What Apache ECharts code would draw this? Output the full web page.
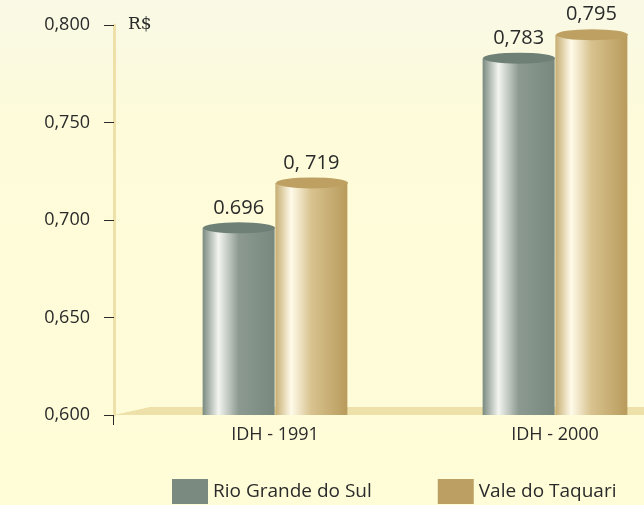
<!DOCTYPE html>
<html lang="pt">
<head>
<meta charset="UTF-8">
<title>IDH</title>
<script src="https://cdn.jsdelivr.net/npm/echarts@6/dist/echarts.min.js"></script>
<style>
  html, body { margin: 0; padding: 0; }
</style>
</head>
<body>
<div id="main" style="width:644px;height:505px;"></div>
<script>
var categories = ['IDH - 1991', 'IDH - 2000'];
var seriesNames = ['Rio Grande do Sul', 'Vale do Taquari'];
var rioValues = [0.696, 0.783];
var valeValues = [0.719, 0.795];
var rioLabels = ['0.696', '0,783'];
var valeLabels = ['0, 719', '0,795'];

var font = 'Open Sans';

function cyl(dark, light, mid, end) {
    return {
        type: 'linear', x: 0, y: 0, x2: 1, y2: 0,
        colorStops: [
            { offset: 0, color: dark },
            { offset: 0.22, color: light },
            { offset: 0.5, color: mid },
            { offset: 1, color: end }
        ]
    };
}
var rioFill = cyl('#7a8a80', '#f4f5f0', '#8c9a91', '#78887e');
var valeFill = cyl('#c6ad72', '#fffbea', '#d8c28e', '#b89b5c');

var myChart = echarts.init(document.getElementById('main'));
var option = {
    backgroundColor: {
        type: 'linear', x: 0, y: 0, x2: 0, y2: 1,
        colorStops: [
            { offset: 0, color: '#f9f9e6' },
            { offset: 0.25, color: '#fdfbd9' },
            { offset: 1, color: '#fffdd8' }
        ]
    },
    textStyle: { fontFamily: font },
    animation: false,
    grid: { left: 135, top: 25, width: 560, height: 390, outerBoundsMode: 'none', containLabel: false },
    legend: {
        left: 167,
        top: 474,
        itemWidth: 36,
        itemHeight: 25,
        itemGap: 66,
        icon: 'rect',
        textStyle: { fontSize: 19, color: '#2a2a2a', fontFamily: font },
        data: [
            { name: seriesNames[0], itemStyle: { color: '#7b8a80' } },
            { name: seriesNames[1], itemStyle: { color: '#bc9f62' } }
        ]
    },
    xAxis: {
        type: 'category',
        data: categories,
        axisLine: { show: false },
        axisTick: { show: false },
        axisLabel: { fontSize: 18, color: '#2a2a2a', margin: 11 }
    },
    yAxis: {
        type: 'value',
        min: 0.6,
        max: 0.8,
        interval: 0.05,
        offset: 21,
        name: 'R$',
        nameLocation: 'end',
        nameGap: 0,
        nameTextStyle: {
            fontFamily: 'DejaVu Serif', fontSize: 17, color: '#2a2a2a',
            align: 'left', verticalAlign: 'middle', padding: [0, 0, 0, 14]
        },
        splitLine: { show: false },
        axisLine: { show: true, lineStyle: { color: '#ede0a8', width: 3 } },
        axisTick: { show: true, inside: false, length: 10, lineStyle: { color: '#2a2a2a', width: 1 } },
        axisLabel: {
            fontSize: 18, color: '#2a2a2a', margin: 24,
            formatter: function (v) { return v.toFixed(3).replace('.', ','); }
        }
    },
    graphic: [
        {
            type: 'polygon', z: 0, silent: true,
            shape: { points: [[114, 415], [150, 407], [644, 407], [644, 415]] },
            style: { fill: '#ede0a8' }
        },
        {
            type: 'line', z: 1, silent: true,
            shape: { x1: 113.5, y1: 415, x2: 113.5, y2: 425 },
            style: { stroke: '#2a2a2a', lineWidth: 1 }
        }
    ],
    series: [
        {
            name: seriesNames[0], type: 'bar', data: rioValues,
            barWidth: 72, barGap: '1%', z: 3,
            itemStyle: { color: rioFill },
            label: {
                show: true, position: 'top', distance: 10, fontSize: 20, color: '#2a2a2a',
                formatter: function (p) { return rioLabels[p.dataIndex]; }
            }
        },
        {
            name: seriesNames[1], type: 'bar', data: valeValues,
            barWidth: 72, z: 3,
            itemStyle: { color: valeFill },
            label: {
                show: true, position: 'top', distance: 10, fontSize: 20, color: '#2a2a2a',
                formatter: function (p) { return valeLabels[p.dataIndex]; }
            }
        },
        {
            name: seriesNames[0], type: 'pictorialBar', data: rioValues,
            symbol: 'circle', symbolSize: [72, 11], symbolPosition: 'end',
            symbolOffset: [-36, '-50%'], z: 4,
            itemStyle: { color: '#6f8077' }
        },
        {
            name: seriesNames[1], type: 'pictorialBar', data: valeValues,
            symbol: 'circle', symbolSize: [72, 11], symbolPosition: 'end',
            symbolOffset: [37, '-50%'], z: 4,
            itemStyle: { color: '#bda062' }
        },
        {
            name: seriesNames[0], type: 'pictorialBar', data: rioValues,
            symbol: 'circle', symbolSize: [72, 8], symbolPosition: 'start',
            symbolOffset: [-36, '30%'], z: 2,
            itemStyle: { color: rioFill }
        },
        {
            name: seriesNames[1], type: 'pictorialBar', data: valeValues,
            symbol: 'circle', symbolSize: [72, 8], symbolPosition: 'start',
            symbolOffset: [37, '30%'], z: 2,
            itemStyle: { color: valeFill }
        }
    ]
};
myChart.setOption(option);
</script>
</body>
</html>
